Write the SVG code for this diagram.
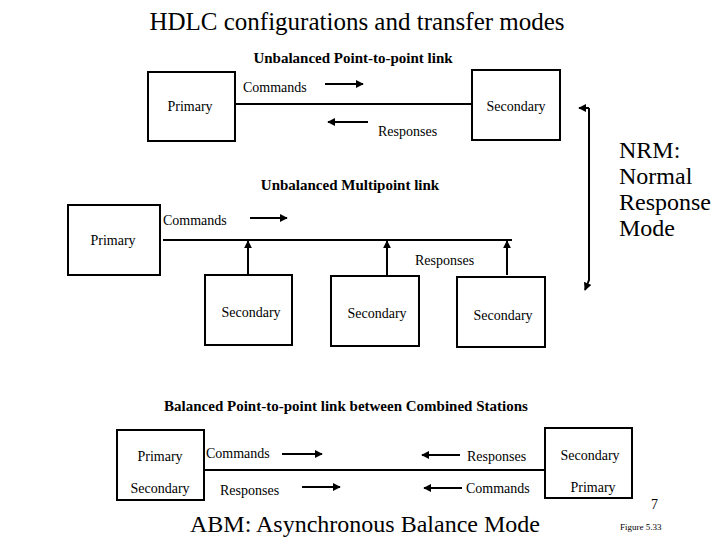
<svg xmlns="http://www.w3.org/2000/svg" width="720" height="540" viewBox="0 0 720 540">
<defs>
<marker id="ah" viewBox="0 0 10 10" refX="9" refY="5" markerWidth="4" markerHeight="4" orient="auto"><path d="M0,0 L10,5 L0,10 z" fill="#000"/></marker>
</defs>
<style>
text{font-family:Liberation Serif,Tinos,DejaVu Serif,Times New Roman,serif}
.l{font-size:14px}
.b{font-size:15px;font-weight:bold}
.big{font-size:24px}
.box{fill:#fff;stroke:#000;stroke-width:2}
.ln{stroke:#000;stroke-width:2;fill:none}
.ar{stroke:#000;stroke-width:2;fill:none;marker-end:url(#ah)}
.m{text-anchor:middle}
</style>
<rect width="720" height="540" fill="#fff"/>
<text x="357" y="30" class="m" font-size="25">HDLC configurations and  transfer modes</text>
<text x="353" y="63" class="b m">Unbalanced Point-to-point link</text>
<text x="350" y="190" class="b m">Unbalanced Multipoint link</text>
<text x="346" y="411" class="b m">Balanced Point-to-point link between Combined Stations</text>
<g id="connectors">
<line class="ln" x1="235" y1="104" x2="472" y2="104"/>
<line class="ar" x1="325" y1="84" x2="363" y2="84"/>
<line class="ar" x1="368" y1="122" x2="328" y2="122"/>
<path class="ar" d="M589,108 L579,108"/>
<path class="ar" d="M589,108 L589,280 L585,290"/>
<line class="ln" x1="163" y1="240" x2="512" y2="240"/>
<line class="ar" x1="250" y1="218" x2="287" y2="218"/>
<line class="ar" x1="248" y1="275" x2="248" y2="241"/>
<line class="ar" x1="387" y1="275" x2="387" y2="241"/>
<line class="ar" x1="507" y1="275" x2="507" y2="241"/>
<line class="ln" x1="204" y1="470" x2="545" y2="470"/>
<line class="ar" x1="282" y1="454" x2="322" y2="454"/>
<line class="ar" x1="460" y1="455" x2="422" y2="455"/>
<line class="ar" x1="302" y1="487" x2="340" y2="487"/>
<line class="ar" x1="462" y1="488" x2="424" y2="488"/>
</g>
<g id="p1"><rect class="box" x="148" y="72" width="87" height="69"/><text x="190" y="111" class="l m">Primary</text></g>
<g id="s1"><rect class="box" x="472" y="70" width="88" height="70"/><text x="516" y="111" class="l m">Secondary</text></g>
<g id="lbl1"><text x="243" y="92" class="l">Commands</text><text x="378" y="136" class="l">Responses</text></g>
<g id="nrm"><text x="619" y="158" class="big">NRM:</text><text x="619" y="184" class="big">Normal</text><text x="619" y="210" class="big">Response</text><text x="619" y="236" class="big">Mode</text></g>
<g id="p2"><rect class="box" x="68" y="205" width="92" height="70"/><text x="113" y="245" class="l m">Primary</text></g>
<g id="lbl2"><text x="163" y="225" class="l">Commands</text><text x="415" y="265" class="l">Responses</text></g>
<g id="s2"><rect class="box" x="205" y="275" width="87" height="70"/><text x="251" y="317" class="l m">Secondary</text></g>
<g id="s3"><rect class="box" x="331" y="276" width="88" height="70"/><text x="377" y="318" class="l m">Secondary</text></g>
<g id="s4"><rect class="box" x="457" y="277" width="88" height="70"/><text x="503" y="320" class="l m">Secondary</text></g>
<g id="c1"><rect class="box" x="117" y="430" width="87" height="70"/><text x="160" y="461" class="l m">Primary</text><text x="160" y="493" class="l m">Secondary</text></g>
<g id="c2"><rect class="box" x="545" y="428" width="87" height="70"/><text x="590" y="460" class="l m">Secondary</text><text x="593" y="492" class="l m">Primary</text></g>
<g id="lbl3"><text x="206" y="458" class="l">Commands</text><text x="467" y="461" class="l">Responses</text><text x="220" y="495" class="l">Responses</text><text x="466" y="493" class="l">Commands</text></g>
<text x="365" y="532" class="big m">ABM: Asynchronous Balance Mode</text>
<text x="651" y="509" font-size="14">7</text>
<text x="620" y="530" font-size="9">Figure 5.33</text>
</svg>
